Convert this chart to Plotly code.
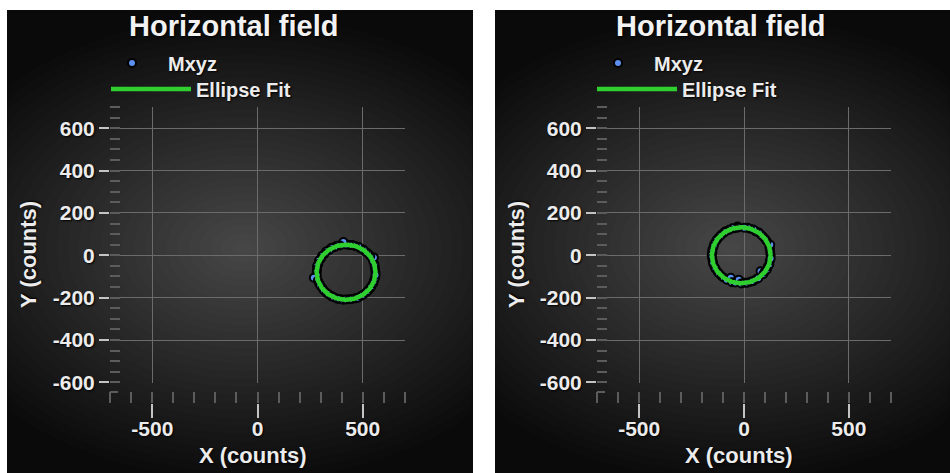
import numpy as np
import plotly.graph_objects as go

W, H = 950, 473

# ---- measured samples (counts) -------------------------------------------
# left panel: raw horizontal field samples
raw_x = [561, 559, 557, 555, 549, 553, 536, 525, 514, 504, 490, 479, 463, 450, 437, 421,
         408, 392, 377, 365, 350, 340, 326, 318, 307, 301, 292, 289, 283, 283, 281, 282,
         268, 287, 294, 299, 309, 316, 328, 338, 352, 363, 379, 391, 407, 420, 437, 449,
         465, 477, 492, 502, 516, 524, 536, 541, 550, 553, 559, 561]
raw_y = [-80, -66, -52, -41, -26, -11, -4, 8, 16, 26, 32, 40, 44, 48, 48, 51,
         63, 46, 45, 38, 34, 24, 18, 6, -3, -16, -26, -41, -52, -67, -80, -95,
         -106, -119, -134, -144, -157, -166, -178, -184, -194, -198, -205, -206, -210, -209, -208, -206,
         -203, -200, -192, -186, -176, -168, -155, -146, -132, -121, -106, -93]
raw_fit = dict(cx=421, cy=-80, a=140, b=130)

# right panel: calibrated horizontal field samples
cal_x = [127, 125, 124, 121, 125, 108, 101, 90, 81, 70, 56, 45, 29, 17, 1, -31,
         -28, -43, -55, -71, -87, -94, -108, -116, -127, -133, -142, -145, -151, -151, -154, -152,
         -149, -147, -140, -135, -125, -118, -106, -96, -82, -63, -57, -41, -25, -13, 3, 15,
         31, 43, 58, 68, 79, 92, 99, 109, 114, 121, 123, 127]
cal_y = [0, 14, 28, 40, 50, 67, 77, 89, 97, 108, 113, 122, 125, 130, 130, 136,
         131, 128, 127, 120, 114, 108, 97, 89, 77, 67, 53, 42, 26, 15, 0, -13,
         -28, -40, -55, -65, -79, -87, -99, -106, -115, -106, -127, -128, -115, -133, -130, -130,
         -125, -122, -113, -108, -76, -89, -77, -67, -53, -42, -26, -15]
cal_fit = dict(cx=-13, cy=0, a=140, b=132)

# ---- axis ticks --------------------------------------------------------------
x_tickvals = [-500, 0, 500]
x_ticktext = ["-500", "0", "500"]
y_tickvals = [-600, -400, -200, 0, 200, 400, 600]
y_ticktext = ["-600", "-400", "-200", "0", "200", "400", "600"]

TITLE = "Horizontal field"
X_TITLE = "X (counts)"
Y_TITLE = "Y (counts)"

FONT = "Liberation Sans, Arial, sans-serif"
TXT = "#ececec"
SHADOW = "1px 1px 2px #000"
GREEN = "#2fcf2f"
BLUE = "#5b8ff0"


def px(x):
    return x / W


def py(y):
    return 1 - y / H


def ellipse_xy(fit, n=181):
    t = np.linspace(0, 2 * np.pi, n)
    return fit["cx"] + fit["a"] * np.cos(t), fit["cy"] + fit["b"] * np.sin(t)


def glow_path(cx, cy, rx, ry, box):
    """Elliptical glow layer, clipped to the panel box (pixel units)."""
    l, r, t, b = box
    a = np.linspace(0, 2 * np.pi, 73)
    xs = np.clip(cx + rx * np.cos(a), l, r)
    ys = np.clip(cy + ry * np.sin(a), t, b)
    pts = [f"{px(x):.5f},{py(y):.5f}" for x, y in zip(xs, ys)]
    return "M" + " L".join(pts) + " Z"


fig = go.Figure()

panels = [
    # samples, fit, axes, legends, plot-area x extent (px), panel x extent (px)
    (raw_x, raw_y, raw_fit, "x", "y", ("legend", "legend2"), (110, 405), (7, 473)),
    (cal_x, cal_y, cal_fit, "x2", "y2", ("legend3", "legend4"), (597, 891), (495, 950)),
]

shapes = []
annotations = []
PANEL_TOP = 10
PLOT_TOP, PLOT_BOT, XAX_POS = 107, 383, 403

for sx, sy, fit, xa, ya, (lg_pts, lg_fit), (pl, pr), (bl, br) in panels:
    # dark panel with a soft radial glow
    shapes.append(dict(type="rect", xref="paper", yref="paper", layer="below",
                       x0=px(bl), x1=px(br), y0=py(H), y1=py(PANEL_TOP),
                       fillcolor="#0a0a0a", line=dict(width=0)))
    cx, cy = (pl + pr) / 2 - 14, 248
    n_layers = 30
    for k in range(n_layers, 0, -1):
        f = k / n_layers
        shapes.append(dict(type="path", xref="paper", yref="paper", layer="below",
                           path=glow_path(cx, cy, 330 * f, 232 * f, (bl, br, PANEL_TOP, H)),
                           fillcolor="rgba(255,255,255,0.0105)", line=dict(width=0)))
    # small corner piece at the start of the minor-tick row
    shapes.append(dict(type="line", xref="paper", yref="paper", layer="above",
                       x0=px(pl), x1=px(pl + 8), y0=py(XAX_POS - 11), y1=py(XAX_POS - 11),
                       line=dict(color="#5c5c5c", width=2)))

    ex, ey = ellipse_xy(fit)
    fig.add_trace(go.Scatter(
        x=sx, y=sy, mode="markers", name="Mxyz", xaxis=xa, yaxis=ya, legend=lg_pts,
        marker=dict(size=8, color=BLUE, line=dict(color="#000000", width=2)),
    ))
    fig.add_trace(go.Scatter(
        x=ex, y=ey, mode="lines", name="Ellipse Fit", xaxis=xa, yaxis=ya, legend=lg_fit,
        line=dict(color=GREEN, width=4.5),
    ))

    mid = (pl + pr) / 2
    annotations += [
        dict(text=TITLE, xref="paper", yref="paper", x=px(mid - 24), y=py(26),
             xanchor="center", yanchor="middle", showarrow=False,
             font=dict(family=FONT, size=29, color="#f2f2f2", weight="bold", shadow=SHADOW)),
        dict(text=X_TITLE, xref="paper", yref="paper", x=px(mid - 5), y=py(455),
             xanchor="center", yanchor="middle", showarrow=False,
             font=dict(family=FONT, size=22, color=TXT, weight="bold", shadow=SHADOW)),
        dict(text=Y_TITLE, xref="paper", yref="paper", x=px(bl + 21), y=py(255),
             xanchor="center", yanchor="middle", showarrow=False, textangle=-90,
             font=dict(family=FONT, size=22, color=TXT, weight="bold", shadow=SHADOW)),
    ]

tickfont = dict(family=FONT, size=21, color=TXT, weight="bold", shadow=SHADOW)


def x_axis(pl, pr):
    return dict(domain=[px(pl), px(pr)], range=[-701, 701], anchor="free", position=py(XAX_POS),
                showgrid=True, gridcolor="#6b6b6b", gridwidth=1, zeroline=False, showline=False,
                tickmode="array", tickvals=x_tickvals, ticktext=x_ticktext,
                ticks="outside", ticklen=14, tickwidth=2, tickcolor="#c4c4c4",
                tickfont=tickfont, ticklabelstandoff=-7, automargin=False,
                minor=dict(dtick=100, tick0=0, ticks="inside", ticklen=11, tickwidth=2,
                           tickcolor="#5c5c5c", showgrid=False),
                fixedrange=True)


def y_axis(anchor):
    return dict(domain=[py(PLOT_BOT), py(PLOT_TOP)], range=[-603, 700], anchor=anchor,
                showgrid=True, gridcolor="#6b6b6b", gridwidth=1, zeroline=False, showline=False,
                tickmode="array", tickvals=y_tickvals, ticktext=y_ticktext,
                ticks="outside", ticklen=10, tickwidth=2, tickcolor="#c4c4c4",
                tickfont=tickfont, ticklabelstandoff=0, automargin=False,
                minor=dict(dtick=50, tick0=0, ticks="inside", ticklen=10, tickwidth=2,
                           tickcolor="#5c5c5c", showgrid=False),
                fixedrange=True)


def legend_at(x_px, y_px, itemwidth):
    return dict(x=px(x_px), y=py(y_px), xanchor="left", yanchor="middle",
                bgcolor="rgba(0,0,0,0)", borderwidth=0, itemwidth=itemwidth,
                font=dict(family=FONT, size=20, color=TXT, weight="bold", shadow=SHADOW))


fig.update_layout(
    width=W, height=H,
    margin=dict(l=0, r=0, t=0, b=0, pad=0, autoexpand=False),
    paper_bgcolor="#ffffff", plot_bgcolor="rgba(0,0,0,0)",
    showlegend=True,
    xaxis=x_axis(110, 405), yaxis=y_axis("x"),
    xaxis2=x_axis(597, 891), yaxis2=y_axis("x2"),
    legend=legend_at(96, 63, 62),
    legend2=legend_at(106, 89, 80),
    legend3=legend_at(582, 63, 62),
    legend4=legend_at(592, 89, 80),
    shapes=shapes, annotations=annotations,
)

fig.write_html("out.html")
